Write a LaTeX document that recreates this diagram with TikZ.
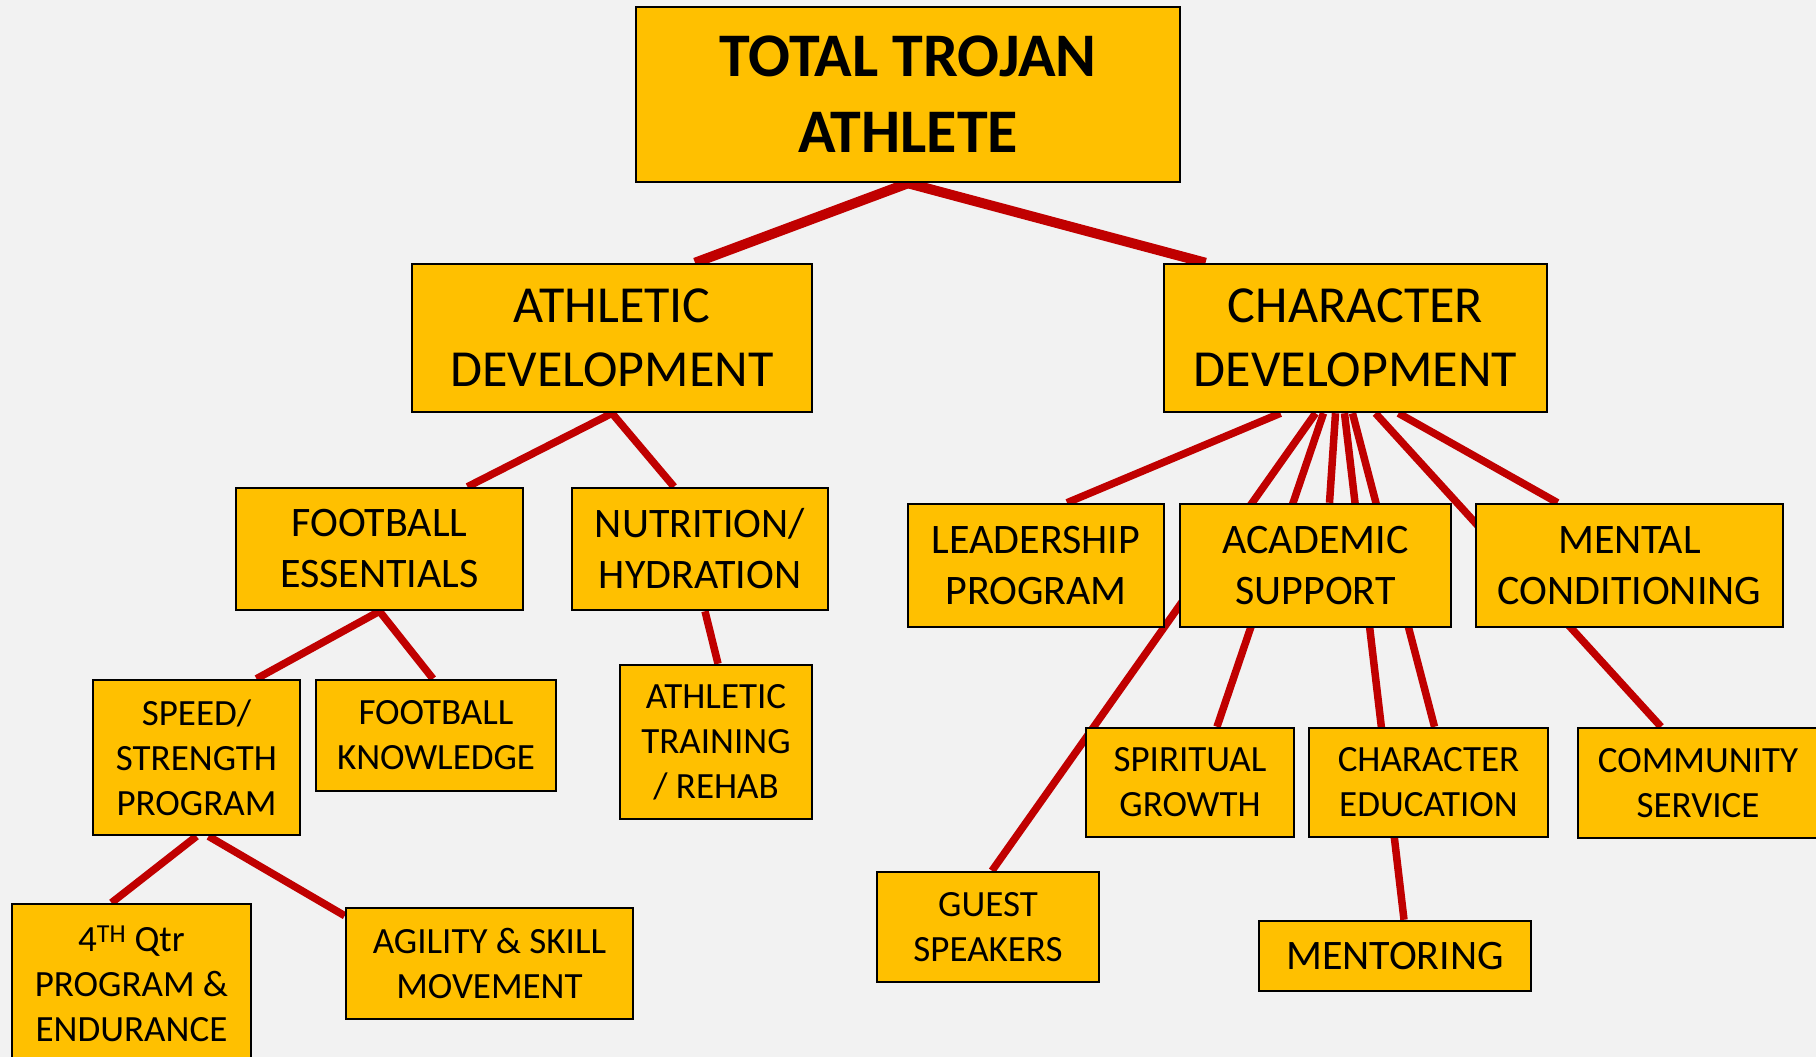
\documentclass[tikz,border=0pt]{standalone}
\usepackage{fontspec}
\setmainfont{Carlito}
\usetikzlibrary{backgrounds}
\definecolor{bgColor}{RGB}{242,242,242}
\definecolor{boxColor}{RGB}{255,192,0}
\definecolor{linkColor}{RGB}{192,0,0}
\newcommand{\sizeTop}{\fontsize{62}{76}\selectfont\bfseries}
\newcommand{\sizeMid}{\fontsize{52}{64}\selectfont}
\newcommand{\sizeSub}{\fontsize{42}{51}\selectfont}
\newcommand{\sizeLow}{\fontsize{37}{45}\selectfont}
\tikzset{
  orgbox/.style={draw=black, fill=boxColor, line width=2.5pt, align=center, inner sep=0pt, text=black},
  link/.style={draw=linkColor, line width=7.5pt},
  biglink/.style={draw=linkColor, line width=10pt},
}
\begin{document}
\begin{tikzpicture}[x=1pt,y=-1pt]
\path[use as bounding box] (0,0) rectangle (1816,1057);
\clip (0,0) rectangle (1816,1057);

% top
\node[orgbox, minimum width=544, minimum height=175, font=\sizeTop] (root) at (908,94.5) {TOTAL TROJAN\\ATHLETE};

% second level
\node[orgbox, minimum width=400, minimum height=148, font=\sizeMid] (athdev) at (612,338) {ATHLETIC\\DEVELOPMENT};
\node[orgbox, minimum width=383, minimum height=148, font=\sizeMid] (chardev) at (1355.5,338) {CHARACTER\\DEVELOPMENT};

% third level
\node[orgbox, minimum width=287, minimum height=122, font=\sizeSub] (fbess) at (379.5,549) {FOOTBALL\\ESSENTIALS};
\node[orgbox, minimum width=256, minimum height=122, font=\sizeSub] (nutrition) at (700,549) {NUTRITION/\\HYDRATION};
\node[orgbox, minimum width=256, minimum height=123, font=\sizeSub] (leadership) at (1036,565.5) {LEADERSHIP\\PROGRAM};
\node[orgbox, minimum width=271, minimum height=123, font=\sizeSub] (academic) at (1315.5,565.5) {ACADEMIC\\SUPPORT};
\node[orgbox, minimum width=307, minimum height=123, font=\sizeSub] (mental) at (1629.5,565.5) {MENTAL\\CONDITIONING};

% fourth level
\node[orgbox, minimum width=207, minimum height=155, font=\sizeLow] (speed) at (196.5,757.5) {SPEED/\\STRENGTH\\PROGRAM};
\node[orgbox, minimum width=240, minimum height=111, font=\sizeLow] (fbknow) at (436,735.5) {FOOTBALL\\KNOWLEDGE};
\node[orgbox, minimum width=192, minimum height=154, font=\sizeLow] (athtrain) at (716,742) {ATHLETIC\\TRAINING\\/ REHAB};
\node[orgbox, minimum width=208, minimum height=109, font=\sizeLow] (spiritual) at (1190,782.5) {SPIRITUAL\\GROWTH};
\node[orgbox, minimum width=239, minimum height=109, font=\sizeLow] (chared) at (1428.5,782.5) {CHARACTER\\EDUCATION};
\node[orgbox, minimum width=240, minimum height=110, font=\sizeLow] (community) at (1698,783) {COMMUNITY\\SERVICE};

% bottom
\node[orgbox, minimum width=239, minimum height=160, font=\sizeLow] (fourth) at (131.5,984) {4\textsuperscript{TH} Qtr\\PROGRAM \&\\ENDURANCE};
\node[orgbox, minimum width=287, minimum height=111, font=\sizeLow] (agility) at (489.5,963.5) {AGILITY \& SKILL\\MOVEMENT};
\node[orgbox, minimum width=222, minimum height=110, font=\sizeLow] (guest) at (988,927) {GUEST\\SPEAKERS};
\node[orgbox, minimum width=272, minimum height=70, font=\sizeSub] (mentoring) at (1395,956) {MENTORING};

\begin{pgfonlayer}{background}
\fill[bgColor] (0,0) rectangle (1816,1057);

\draw[biglink] (root.south) -- ([xshift=83pt]athdev.north);
\draw[biglink] (root.south) -- ([xshift=-150pt]chardev.north);

\draw[link] (athdev.south) -- ([xshift=88pt]fbess.north);
\draw[link] (athdev.south) -- ([xshift=-26pt]nutrition.north);
\draw[link] (fbess.south) -- ([xshift=60pt]speed.north);
\draw[link] (fbess.south) -- ([xshift=-3pt]fbknow.north);
\draw[link] ([xshift=5pt]nutrition.south) -- ([xshift=2pt]athtrain.north);
\draw[link] (speed.south) -- ([xshift=-20pt]fourth.north);
\draw[link] ([xshift=12pt]speed.south) -- ([yshift=-9pt]agility.north west);

\draw[link] ([xshift=-75pt]chardev.south) -- ([xshift=31pt]leadership.north);
\draw[link] ([xshift=-40pt]chardev.south) -- ([xshift=4pt]guest.north);
\draw[link] ([xshift=-32pt]chardev.south) -- ([xshift=27pt]spiritual.north);
\draw[link] ([xshift=-20pt]chardev.south) -- ([xshift=14pt]academic.north);
\draw[link] ([xshift=-11pt]chardev.south) -- ([xshift=9pt]mentoring.north);
\draw[link] ([xshift=-3pt]chardev.south) -- ([xshift=6pt]chared.north);
\draw[link] ([xshift=20pt]chardev.south) -- ([xshift=-37pt]community.north);
\draw[link] ([xshift=43pt]chardev.south) -- ([xshift=-72pt]mental.north);
\end{pgfonlayer}
\end{tikzpicture}
\end{document}
